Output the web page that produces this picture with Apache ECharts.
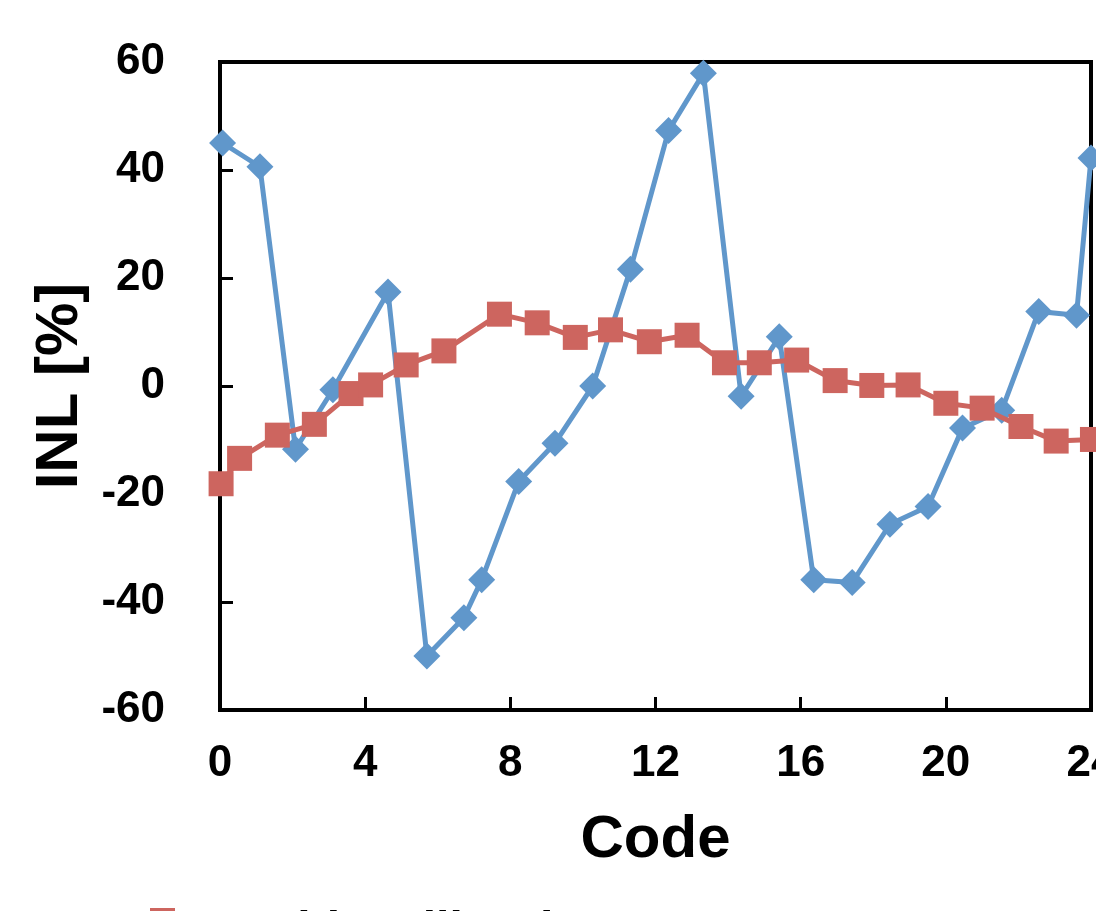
<!DOCTYPE html>
<html>
<head>
<meta charset="utf-8">
<script src="https://cdn.jsdelivr.net/npm/echarts@6/dist/echarts.min.js"></script>
<style>
html,body{margin:0;padding:0;background:#fff;}
#chart{width:1096px;height:911px;}
</style>
</head>
<body>
<div id="chart"></div>
<script>
// Series without calibration (blue diamonds)
const blueX = [0.07, 1.10, 2.08, 3.11, 4.63, 5.70, 6.72, 7.21, 8.23, 9.23, 10.27, 11.31, 12.36, 13.32, 14.36, 15.41, 16.36, 17.42, 18.46, 19.51, 20.46, 21.54, 22.56, 23.60, 24.0];
const blueY = [45.0, 40.6, -11.7, -0.7, 17.4, -50.0, -42.9, -35.9, -17.7, -10.6, 0.0, 21.6, 47.3, 57.9, -1.9, 9.1, -35.9, -36.4, -25.6, -22.3, -7.8, -4.5, 13.8, 13.1, 42.2];
// Series with calibration (red squares)
const redX = [0.03, 0.54, 1.58, 2.60, 3.61, 4.15, 5.13, 6.17, 7.70, 8.74, 9.79, 10.76, 11.83, 12.87, 13.90, 14.86, 15.89, 16.95, 17.96, 18.96, 20.00, 21.00, 22.07, 23.04, 24.04];
const redY = [-18.1, -13.4, -9.1, -7.1, -1.4, 0.2, 3.9, 6.5, 13.3, 11.7, 9.0, 10.4, 8.2, 9.4, 4.3, 4.3, 4.8, 1.0, 0.1, 0.2, -3.2, -4.1, -7.5, -10.2, -9.9];
const xTicks = {min: 0, max: 24, interval: 4};
const yTicks = {min: -60, max: 60, interval: 20};
const blueName = 'without calibration';
const redName = 'with calibration';

const blueData = blueX.map((x, i) => [x, blueY[i]]);
const redData = redX.map((x, i) => [x, redY[i]]);

const FONT = '"Liberation Sans", Arial, sans-serif';
const chart = echarts.init(document.getElementById('chart'), null, {renderer: 'canvas'});
chart.setOption({
  animation: false,
  backgroundColor: '#ffffff',
  grid: {left: 220, right: 5, top: 62, bottom: 201, outerBoundsMode: 'none', containLabel: false,
         show: true, borderColor: '#000', borderWidth: 4, backgroundColor: 'transparent'},
  legend: {
    data: [{name: redName, icon: 'rect'}],
    left: 145, bottom: -50,
    itemWidth: 25, itemHeight: 48,
    textStyle: {fontFamily: FONT, fontWeight: 'bold', fontSize: 48, color: '#000', padding: [0, 0, 0, 80]}
  },
  xAxis: {
    type: 'value', min: xTicks.min, max: xTicks.max, interval: xTicks.interval,
    name: 'Code', nameLocation: 'middle', nameGap: 100,
    nameTextStyle: {fontFamily: FONT, fontWeight: 'bold', fontSize: 60, color: '#000'},
    axisLine: {show: true, onZero: false, lineStyle: {color: '#000', width: 4}},
    axisTick: {show: true, inside: true, length: 13, lineStyle: {color: '#000', width: 3}},
    axisLabel: {fontFamily: FONT, fontWeight: 'bold', fontSize: 44, color: '#000', margin: 32},
    splitLine: {show: false}
  },
  yAxis: {
    type: 'value', min: yTicks.min, max: yTicks.max, interval: yTicks.interval,
    name: 'INL [%]', nameLocation: 'middle', nameGap: 117, nameRotate: 90,
    nameTextStyle: {fontFamily: FONT, fontWeight: 'bold', fontSize: 60, color: '#000'},
    axisLine: {show: true, onZero: false, lineStyle: {color: '#000', width: 4}},
    axisTick: {show: true, inside: true, length: 13, lineStyle: {color: '#000', width: 3}},
    axisLabel: {fontFamily: FONT, fontWeight: 'bold', fontSize: 44, color: '#000', margin: 55},
    splitLine: {show: false}
  },
  series: [
    {
      name: blueName, type: 'line', data: blueData, z: 2,
      symbol: 'diamond', symbolSize: 27, showAllSymbol: true,
      lineStyle: {color: '#6097CB', width: 5},
      itemStyle: {color: '#6097CB'},
      clip: false
    },
    {
      name: redName, type: 'line', data: redData, z: 3,
      symbol: 'rect', symbolSize: 25, showAllSymbol: true,
      lineStyle: {color: '#CD655F', width: 5},
      itemStyle: {color: '#CD655F'},
      clip: false
    }
  ]
});
</script>
</body>
</html>
